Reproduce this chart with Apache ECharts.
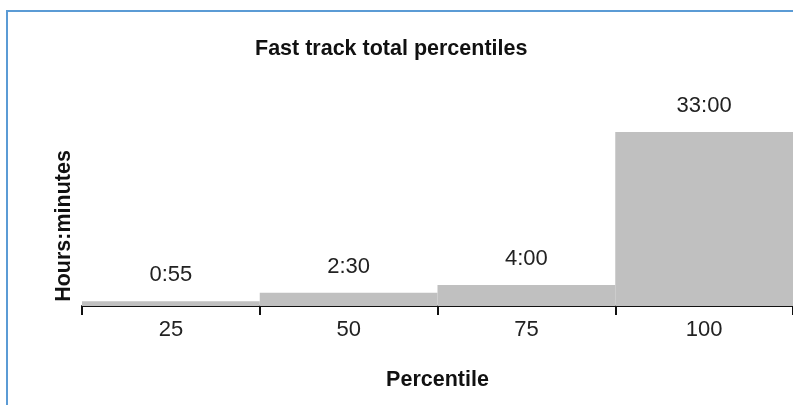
<!DOCTYPE html>
<html>
<head>
<meta charset="utf-8">
<script src="https://cdn.jsdelivr.net/npm/echarts@6/dist/echarts.min.js"></script>
<style>
html,body{margin:0;padding:0;background:#fff;}
#chart{width:793px;height:405px;}
</style>
</head>
<body>
<div id="chart"></div>
<script>
var categories = ['25', '50', '75', '100'];
var hoursValues = [55 / 60, 2.5, 4, 33];
var titleText = 'Fast track total percentiles';
var yTitle = 'Hours:minutes';
var xTitle = 'Percentile';

function fmt(v) {
  var h = Math.floor(v + 1e-9);
  var m = Math.round((v - h) * 60);
  return h + ':' + (m < 10 ? '0' + m : m);
}

var FONT = "'Liberation Sans', Arial, sans-serif";
var chart = echarts.init(document.getElementById('chart'), null, {renderer: 'canvas'});
chart.setOption({
  animation: false,
  backgroundColor: '#fff',
  title: {
    text: titleText,
    left: 255,
    top: 38,
    padding: 0,
    textStyle: {fontFamily: FONT, fontWeight: 'bold', fontSize: 21.5, color: '#111'}
  },
  graphic: [
    {
      type: 'rect',
      shape: {x: 7, y: 11, width: 900, height: 600},
      style: {fill: 'none', stroke: '#5b9bd5', lineWidth: 2},
      silent: true
    },
    {
      type: 'text',
      x: 64, y: 226,
      rotation: Math.PI / 2,
      style: {
        text: yTitle,
        fontFamily: FONT, fontWeight: 'bold', fontSize: 21.5, fill: '#111',
        align: 'center', verticalAlign: 'middle'
      }
    }
  ],
  grid: {left: 82, right: -2, top: 95, bottom: 99, containLabel: false},
  xAxis: {
    type: 'category',
    data: categories,
    name: xTitle,
    nameLocation: 'middle',
    nameGap: 63,
    nameTextStyle: {fontFamily: FONT, fontWeight: 'bold', fontSize: 21.5, color: '#111'},
    axisLine: {show: true, lineStyle: {color: '#111', width: 2}},
    axisTick: {show: true, alignWithLabel: false, interval: 0, length: 9, lineStyle: {color: '#111', width: 2}},
    axisLabel: {fontFamily: FONT, fontSize: 22, color: '#222', margin: 13}
  },
  yAxis: {
    type: 'value',
    min: 0, max: 40,
    show: false
  },
  series: [{
    type: 'bar',
    data: hoursValues,
    barCategoryGap: '0%',
    itemStyle: {color: '#c0c0c0'},
    label: {
      show: true,
      position: 'top',
      distance: 15,
      formatter: function (p) { return fmt(p.value); },
      fontFamily: FONT, fontSize: 22, color: '#222'
    }
  }]
});
</script>
</body>
</html>
